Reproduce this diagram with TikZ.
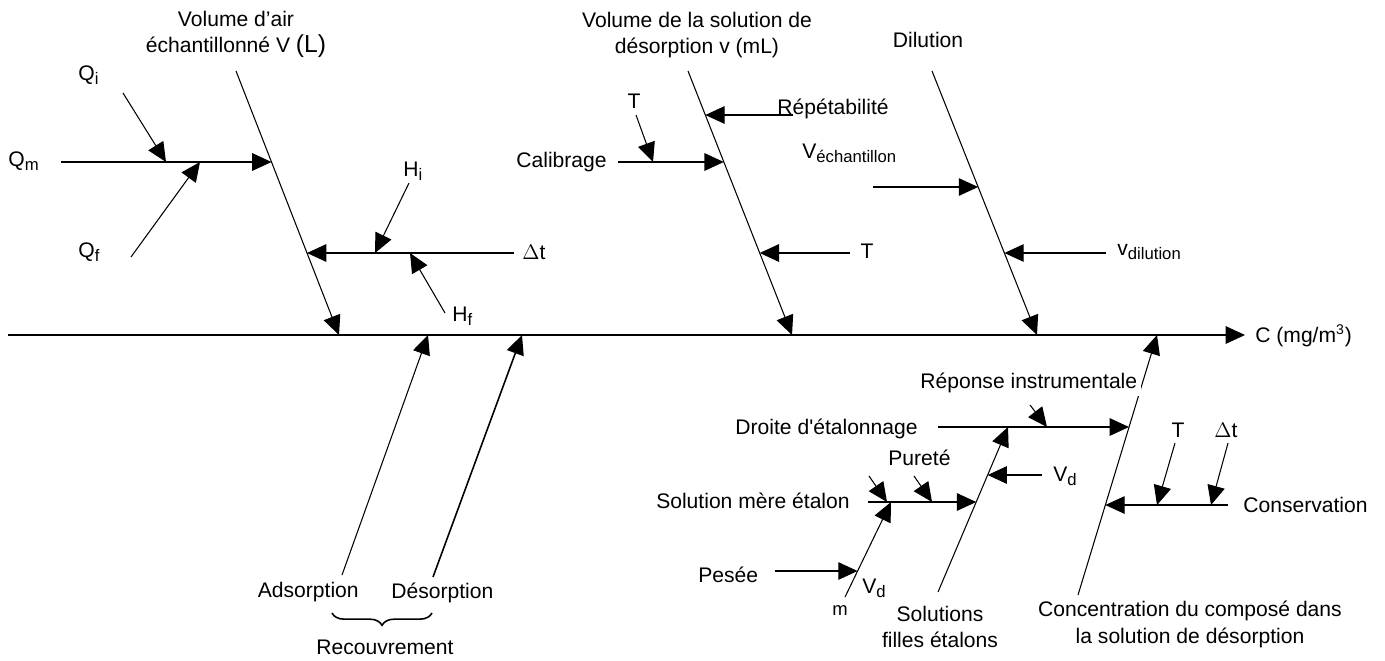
\documentclass[tikz,border=0pt]{standalone}
\usepackage{fontspec}
\setmainfont{Liberation Sans}
\usetikzlibrary{arrows.meta, decorations.pathreplacing}
\newcommand{\lowidx}[1]{\raisebox{-2.6pt}{\fontsize{9.5}{10}\selectfont #1}}
\tikzset{
  bone/.style={-{Triangle[length=11pt, width=10pt]}, line width=0.6pt},
  thickbone/.style={bone, line width=0.9pt},
  lbl/.style={font=\fontsize{12}{15}\selectfont, inner sep=0pt, align=center},
  smalllbl/.style={lbl, font=\fontsize{10.5}{12}\selectfont},
  cover/.style={lbl, fill=white, inner sep=2pt},
  brace/.style={decorate, decoration={brace, amplitude=7pt}, line width=0.9pt},
}

\begin{document}
\begin{tikzpicture}[x=0.02cm, y=-0.02cm]
  \useasboundingbox (0,0) rectangle (1385,660);

  % Spine
  \coordinate (sp0) at (8,335);
  \coordinate (sp1) at (1245,335);
  \node[lbl, anchor=base west] (res) at (1255,342) {C (mg/m\textsuperscript{3})};
  \draw[bone] (sp0) -- (sp1);

  % Main bones
  \coordinate (b1t) at (236,71);   \coordinate (b1b) at (339,335);
  \coordinate (b2t) at (688,71);   \coordinate (b2b) at (792,335);
  \coordinate (b3t) at (932,71);   \coordinate (b3b) at (1037,335);
  \coordinate (b4b) at (342,575);  \coordinate (b4t) at (428,335);
  \coordinate (b6b) at (1078,595); \coordinate (b6t) at (1157,335);
  \coordinate (b7b) at (938,592);  \coordinate (b7t) at (1008,427);
  \coordinate (b8b) at (845,597);  \coordinate (b8t) at (891,502);
  \coordinate (b5b) at (433,577);  \coordinate (b5t) at (522,335);

  \foreach \from/\to in {b1t/b1b, b2t/b2b, b3t/b3b, b4b/b4t,
    b6b/b6t, b7b/b7t, b8b/b8t}
    \draw[bone] (\from) -- (\to);
  \draw[thickbone] (b5b) -- (b5t);

  % Sub-causes, top half
  \coordinate (qm0) at (61,162);   \coordinate (qm1) at (271.5,162);
  \coordinate (qi0) at (123,93);   \coordinate (qi1) at (166,162);
  \coordinate (qf0) at (131,257);  \coordinate (qf1) at (200,162);
  \coordinate (dt0) at (514,253);  \coordinate (dt1) at (307,253);
  \coordinate (hi0) at (409,183);  \coordinate (hi1) at (375,253);
  \coordinate (hf0) at (445,313);  \coordinate (hf1) at (410,253);
  \coordinate (rp0) at (793,115);  \coordinate (rp1) at (705.3,115);
  \coordinate (ta0) at (636,115);  \coordinate (ta1) at (653,162);
  \coordinate (cl0) at (618,162);  \coordinate (cl1) at (723.8,162);
  \coordinate (tb0) at (850,253);  \coordinate (tb1) at (759.7,253);
  \coordinate (ve0) at (873,187);  \coordinate (ve1) at (978.1,187);
  \coordinate (vd0) at (1106,253); \coordinate (vd1) at (1004.4,253);

  % Sub-causes, bottom half
  \coordinate (dr0) at (938,427);  \coordinate (dr1) at (1129,427);
  \coordinate (ri0) at (1030,405); \coordinate (ri1) at (1047,427);
  \coordinate (cn0) at (1228,505); \coordinate (cn1) at (1105.3,505);
  \coordinate (tc0) at (1175,443); \coordinate (tc1) at (1157,505);
  \coordinate (dc0) at (1228,443); \coordinate (dc1) at (1211,505);
  \coordinate (vu0) at (1042,475); \coordinate (vu1) at (987.6,475);
  \coordinate (sm0) at (868,502);  \coordinate (sm1) at (976.2,502);
  \coordinate (pa0) at (869,476);  \coordinate (pa1) at (887,502);
  \coordinate (pb0) at (914,476);  \coordinate (pb1) at (932,502);
  \coordinate (ps0) at (775,571);  \coordinate (ps1) at (857.6,571);

  \foreach \from/\to in {qm0/qm1, qi0/qi1, qf0/qf1, dt0/dt1, hi0/hi1,
    hf0/hf1, rp0/rp1, ta0/ta1, cl0/cl1, tb0/tb1, ve0/ve1, vd0/vd1,
    dr0/dr1, ri0/ri1, cn0/cn1, tc0/tc1, dc0/dc1, vu0/vu1, sm0/sm1,
    pa0/pa1, pb0/pb1, ps0/ps1}
    \draw[bone] (\from) -- (\to);

  % Bone titles
  \node[lbl, anchor=north] (vair) at (236,11)
    {Volume d’air\\échantillonné V {\fontsize{14}{15}\selectfont(L)}};
  \node[lbl, anchor=north] (vsol) at (697,12)
    {Volume de la solution de\\désorption v (mL)};
  \node[lbl, anchor=base] (dil) at (928,47) {Dilution};
  \node[lbl, anchor=base east] (ads) at (359,597) {Adsorption};
  \node[lbl, anchor=base west] (des) at (391,598) {Désorption};
  \node[lbl, anchor=base] (rec) at (385,654) {Recouvrement};
  \node[lbl, anchor=north] (sfe) at (940,606) {Solutions\\filles étalons};
  \node[lbl, anchor=north] (conc) at (1190,601)
    {Concentration du composé dans\\la solution de désorption};

  % Labels, top half
  \node[lbl, anchor=base west] (qm) at (8,166) {Q\lowidx{m}};
  \node[lbl, anchor=base west] (qi) at (78,80) {Q\lowidx{i}};
  \node[lbl, anchor=base west] (qf) at (78,257) {Q\lowidx{f}};
  \node[lbl, anchor=base west] (hi) at (403,176) {H\lowidx{i}};
  \node[lbl, anchor=base west] (hf) at (452,321) {H\lowidx{f}};
  \node[lbl, anchor=base west] (dt) at (522,259) {$\Delta$t};
  \node[lbl, anchor=base west] (rep) at (777,114) {Répétabilité};
  \node[lbl, anchor=base] (ta) at (634,108) {T};
  \node[lbl, anchor=base east] (cal) at (607,167) {Calibrage};
  \node[lbl, anchor=base] (tb) at (867,258) {T};
  \node[lbl, anchor=base west] (vech) at (802,158) {V\lowidx{échantillon}};
  \node[lbl, anchor=base west] (vdil) at (1117,255) {v\lowidx{dilution}};

  % Labels, bottom half
  \node[lbl, anchor=base east] (dro) at (918,434) {Droite d\textquotesingle étalonnage};
  \node[lbl, anchor=base west] (pur) at (888,465) {Pureté};
  \node[lbl, anchor=base east] (sme) at (850,508) {Solution mère étalon};
  \node[lbl, anchor=base west] (pes) at (698,582) {Pesée};
  \node[smalllbl, anchor=base west] (m) at (832,615) {m};
  \node[lbl, anchor=base west] (vdl) at (862,593) {V\lowidx{d}};
  \node[lbl, anchor=base west] (vdu) at (1053,481) {V\lowidx{d}};
  \node[lbl, anchor=base] (tc) at (1178,437) {T};
  \node[lbl, anchor=base] (dc) at (1226,437) {$\Delta$t};
  \node[lbl, anchor=base west] (cons) at (1243,512) {Conservation};
  \node[cover, anchor=base west] (ri) at (916.5,388) {Réponse instrumentale};

  % Brace under adsorption / desorption
  \coordinate (br0) at (432,613);
  \coordinate (br1) at (332,613);
  \draw[brace] (br0) -- (br1);

\end{tikzpicture}
\end{document}
